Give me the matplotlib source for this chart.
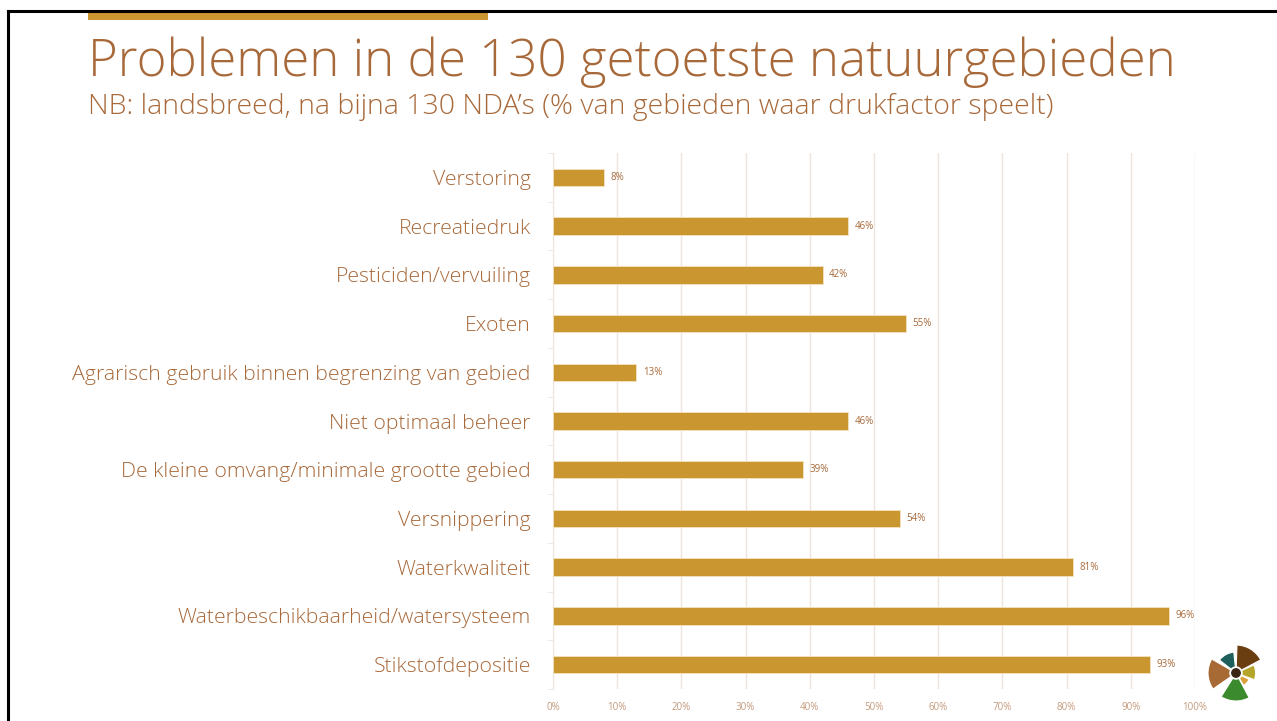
import matplotlib
matplotlib.use("Agg")
import matplotlib.pyplot as plt
from matplotlib.patches import Wedge, Circle, Rectangle
from matplotlib.lines import Line2D

categories = [
    "Verstoring",
    "Recreatiedruk",
    "Pesticiden/vervuiling",
    "Exoten",
    "Agrarisch gebruik binnen begrenzing van gebied",
    "Niet optimaal beheer",
    "De kleine omvang/minimale grootte gebied",
    "Versnippering",
    "Waterkwaliteit",
    "Waterbeschikbaarheid/watersysteem",
    "Stikstofdepositie",
]
values = [8, 46, 42, 55, 13, 46, 39, 54, 81, 96, 93]
xticks = [0, 10, 20, 30, 40, 50, 60, 70, 80, 90, 100]
xticklabels = [f"{t}%" for t in xticks]

title = "Problemen in de 130 getoetste natuurgebieden"
subtitle = "NB: landsbreed, na bijna 130 NDA\u2019s (% van gebieden waar drukfactor speelt)"

BAR = "#C9962F"
TEXT = "#A8693A"
TICK = "#C49A7C"
GRID = "#EFE4DE"

plt.rcParams['font.family'] = ['Open Sans', 'DejaVu Sans']

W, H = 1277, 721
fig = plt.figure(figsize=(W / 100, H / 100), dpi=100)
fig.patch.set_facecolor("white")

def fx(px):
    return px / W

def fy(py):
    return 1 - py / H

# slide border lines
fig.add_artist(Line2D([fx(8), 1.0], [fy(10.5), fy(10.5)], color="black", lw=2.2, transform=fig.transFigure))
fig.add_artist(Line2D([fx(8), fx(8)], [fy(10.5), 0], color="black", lw=2.2, transform=fig.transFigure))
# gold accent bar
fig.add_artist(Rectangle((fx(88), fy(20)), fx(488) - fx(88), fy(12) - fy(20), color=BAR,
                         transform=fig.transFigure, lw=0))

fig.text(fx(88), fy(62), title, fontsize=36.7, color=TEXT, va="center", ha="left", fontweight="light")
fig.text(fx(88), fy(107), subtitle, fontsize=20.5, color=TEXT, va="center", ha="left", fontweight="light")

ax = fig.add_axes([fx(553), fy(689), fx(1195) - fx(553), fy(153) - fy(689)])
n = len(categories)
ypos = list(range(n))
ax.barh(ypos, values, height=0.36, color=BAR, edgecolor="#F3E3C0", linewidth=0.6, zorder=3)
ax.set_ylim(n - 0.5, -0.5)
ax.set_xlim(0, 100)
ax.set_xticks(xticks)
ax.set_xticklabels(xticklabels, fontsize=7, color=TICK)
ax.set_yticks(ypos)
ax.set_yticklabels(categories, fontsize=15.3, color=TEXT, fontweight="light")
ax.grid(axis="x", color=GRID, lw=1, zorder=0)
for s in ["top", "right", "bottom"]:
    ax.spines[s].set_visible(False)
ax.spines["left"].set_color(GRID)
ax.tick_params(axis="x", length=0, pad=9)
ax.tick_params(axis="y", length=0, pad=16)
# minor ticks on y spine between categories
ax.set_yticks([i - 0.5 for i in range(n + 1)], minor=True)
ax.tick_params(axis="y", which="minor", length=4, color=GRID)

for y, v in zip(ypos, values):
    ax.text(v + 1.0, y, f"{v}%", fontsize=7, color=TEXT, va="center", ha="left")

# decorative pinwheel logo
lax = fig.add_axes([fx(1208), fy(702), fx(1264) - fx(1208), fy(644) - fy(702)])
lax.set_xlim(-1, 1)
lax.set_ylim(-1, 1)
lax.set_aspect("equal")
lax.axis("off")
wedges = [
    (28, 88, 1.0, "#6B3E12"),
    (-20, 24, 0.7, "#B5A52A"),
    (-58, -26, 0.52, "#D9A037"),
    (-122, -62, 1.0, "#3C8A2E"),
    (150, 215, 1.0, "#A86A35"),
    (96, 142, 0.75, "#1F5F5B"),
]
for t1, t2, r, c in wedges:
    lax.add_patch(Wedge((0, 0), r, t1, t2, width=r - 0.22, facecolor=c,
                        edgecolor="white", linewidth=0.8))
lax.add_patch(Circle((0, 0), 0.15, color="#3A2415"))

fig.savefig("out.png", dpi=100, facecolor="white")
